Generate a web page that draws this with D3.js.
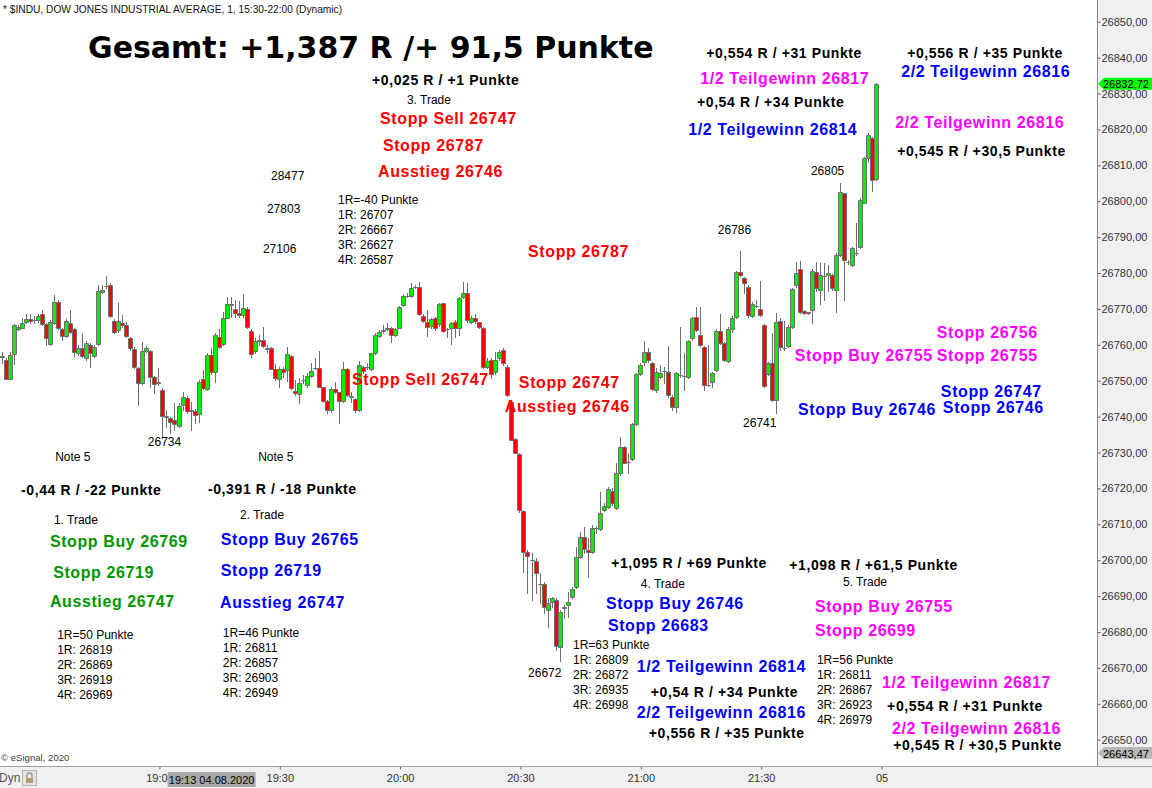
<!DOCTYPE html>
<html>
<head>
<meta charset="utf-8">
<script src="https://cdn.jsdelivr.net/npm/d3@7/dist/d3.min.js"></script>
<style>
  html, body { margin: 0; padding: 0; background: #fff; }
  svg { display: block; }
</style>
</head>
<body>
<svg id="chart" width="1152" height="788"></svg>
<script>
// $INDU 1-minute bars, 04.08.2020, first bar 18:21, last bar 21:59
const startMinute = 18 * 60 + 21;

const opens = [
  26757.0, 26755.7, 26750.6, 26757.3, 26764.5, 26764.8, 26766.4, 26767.2, 26766.9, 26766.9,
  26768.5, 26765.7, 26760.2, 26766.0, 26772.0, 26764.4, 26762.4, 26766.2, 26764.3, 26757.6,
  26759.2, 26756.2, 26759.9, 26756.8, 26760.2, 26774.8, 26776.3, 26776.6, 26766.7, 26764.1,
  26766.1, 26765.5, 26761.8, 26758.7, 26753.6, 26749.4, 26758.2, 26758.2, 26750.9, 26749.5,
  26747.4, 26740.0, 26739.5, 26739.0, 26737.4, 26743.1, 26745.3, 26741.7, 26741.6, 26740.7,
  26750.4, 26747.8, 26757.1, 26752.5, 26762.1, 26760.2, 26767.6, 26771.5, 26770.1, 26768.9,
  26768.3, 26770.1, 26763.9, 26758.3, 26761.1, 26761.2, 26759.2, 26759.0, 26753.2, 26750.4,
  26753.2, 26752.9, 26756.9, 26747.1, 26746.3, 26750.1, 26748.8, 26751.3, 26753.5, 26753.5,
  26748.2, 26744.3, 26741.8, 26747.7, 26746.8, 26744.3, 26753.2, 26745.5, 26744.9, 26741.8,
  26753.8, 26753.8, 26753.2, 26757.7, 26762.5, 26763.9, 26764.3, 26764.6, 26762.7, 26764.7,
  26771.0, 26773.5, 26773.6, 26776.0, 26776.1, 26768.0, 26766.3, 26765.2, 26767.5, 26765.8,
  26771.6, 26764.4, 26764.7, 26766.4, 26764.7, 26773.3, 26774.4, 26766.4, 26767.5, 26766.3,
  26764.7, 26753.8, 26755.8, 26752.4, 26756.3, 26758.5, 26753.8, 26744.1, 26733.8, 26729.6,
  26713.8, 26702.3, 26700.1, 26699.8, 26693.4, 26693.4, 26686.1, 26688.4, 26688.9, 26675.8,
  26686.8, 26687.5, 26689.7, 26692.5, 26700.9, 26706.4, 26702.8, 26702.3, 26709.0, 26708.7,
  26714.0, 26714.8, 26719.3, 26714.5, 26724.3, 26731.5, 26727.3, 26728.2, 26737.9, 26751.9,
  26755.3, 26758.0, 26754.9, 26747.4, 26751.0, 26752.7, 26752.4, 26745.5, 26742.7, 26751.6,
  26751.4, 26751.1, 26761.9, 26767.7, 26762.7, 26759.4, 26748.8, 26749.6, 26752.9, 26763.8,
  26760.5, 26755.5, 26764.4, 26767.7, 26780.3, 26778.6, 26776.1, 26768.0, 26770.8, 26770.0,
  26765.5, 26751.9, 26754.9, 26744.6, 26766.7, 26759.1, 26759.7, 26764.9, 26776.6, 26781.0,
  26769.4, 26768.9, 26769.7, 26780.4, 26775.3, 26779.3, 26779.4, 26779.4, 26775.3, 26785.0,
  26802.2, 26783.2, 26782.2, 26785.5, 26787.3, 26799.6, 26811.9, 26817.7, 26806.1
];

const highs = [
  26758.0, 26756.2, 26758.0, 26765.7, 26765.5, 26767.5, 26768.5, 26768.7, 26768.0, 26768.7,
  26769.7, 26766.0, 26766.9, 26773.9, 26772.6, 26764.8, 26767.1, 26769.7, 26764.6, 26759.9,
  26763.2, 26761.1, 26760.6, 26759.9, 26776.7, 26776.7, 26779.1, 26777.1, 26767.1, 26771.7,
  26768.3, 26766.4, 26762.2, 26759.3, 26753.9, 26760.8, 26759.7, 26758.5, 26751.3, 26753.4,
  26747.9, 26741.8, 26740.0, 26743.7, 26743.7, 26746.9, 26745.7, 26744.1, 26742.0, 26750.2,
  26753.0, 26757.6, 26759.0, 26763.3, 26764.3, 26769.2, 26773.2, 26773.2, 26772.5, 26772.3,
  26774.1, 26770.4, 26764.3, 26761.8, 26762.7, 26764.9, 26759.9, 26759.5, 26754.6, 26753.9,
  26753.9, 26759.4, 26757.1, 26750.2, 26750.8, 26751.6, 26752.1, 26754.9, 26756.3, 26758.3,
  26748.3, 26744.6, 26748.2, 26749.6, 26746.9, 26755.2, 26753.5, 26746.8, 26745.1, 26755.5,
  26754.1, 26754.9, 26757.8, 26763.3, 26764.1, 26765.5, 26766.0, 26765.0, 26764.6, 26770.9,
  26774.1, 26774.4, 26777.2, 26776.6, 26777.5, 26768.6, 26769.7, 26767.5, 26767.8, 26771.6,
  26771.7, 26764.7, 26766.4, 26766.9, 26773.4, 26777.5, 26777.2, 26768.0, 26768.6, 26766.4,
  26765.0, 26756.2, 26756.2, 26758.1, 26758.5, 26759.0, 26754.4, 26744.6, 26733.9, 26729.8,
  26714.0, 26702.8, 26702.0, 26700.6, 26696.4, 26693.9, 26689.5, 26689.7, 26689.5, 26686.1,
  26687.5, 26691.1, 26692.5, 26703.7, 26707.8, 26709.2, 26706.1, 26709.8, 26709.5, 26719.0,
  26716.0, 26720.4, 26720.1, 26727.1, 26734.3, 26731.8, 26729.8, 26738.2, 26752.1, 26754.9,
  26761.1, 26759.1, 26755.2, 26753.5, 26754.4, 26753.8, 26759.7, 26746.0, 26752.4, 26764.9,
  26757.7, 26761.3, 26767.7, 26770.5, 26770.5, 26759.7, 26759.9, 26752.4, 26764.4, 26768.6,
  26760.8, 26764.9, 26768.0, 26780.5, 26786.0, 26778.9, 26776.6, 26771.9, 26772.5, 26777.8,
  26765.8, 26755.2, 26763.3, 26768.8, 26767.5, 26766.5, 26765.5, 26775.8, 26783.1, 26783.4,
  26769.6, 26769.2, 26781.0, 26783.1, 26782.9, 26782.7, 26782.2, 26779.7, 26785.5, 26805.0,
  26802.4, 26783.6, 26787.3, 26793.8, 26800.8, 26812.2, 26818.9, 26818.0, 26833.0
];

const lows = [
  26755.0, 26750.4, 26750.4, 26754.6, 26764.0, 26764.6, 26766.1, 26766.1, 26766.0, 26766.4,
  26765.5, 26759.9, 26759.9, 26765.8, 26764.3, 26761.3, 26762.2, 26763.2, 26756.5, 26757.1,
  26756.5, 26755.9, 26753.9, 26756.5, 26759.9, 26774.5, 26775.7, 26767.8, 26763.2, 26763.6,
  26765.0, 26762.2, 26758.5, 26753.4, 26743.2, 26749.2, 26758.0, 26748.3, 26746.5, 26748.8,
  26734.0, 26737.2, 26735.3, 26736.2, 26737.2, 26741.8, 26740.9, 26736.4, 26738.1, 26738.6,
  26747.8, 26747.4, 26752.0, 26749.7, 26759.0, 26759.9, 26767.4, 26767.8, 26767.8, 26767.8,
  26767.8, 26764.6, 26756.7, 26757.6, 26759.9, 26759.3, 26758.1, 26753.2, 26750.2, 26748.2,
  26751.1, 26750.0, 26747.7, 26746.0, 26743.8, 26749.4, 26748.2, 26751.0, 26753.2, 26748.2,
  26744.0, 26741.0, 26741.3, 26746.6, 26738.2, 26744.0, 26745.7, 26744.0, 26741.3, 26741.5,
  26752.1, 26753.2, 26753.0, 26757.4, 26762.2, 26763.3, 26764.0, 26760.8, 26762.5, 26764.6,
  26770.8, 26773.3, 26773.3, 26775.8, 26768.3, 26766.3, 26762.4, 26764.8, 26764.1, 26765.3,
  26763.6, 26762.1, 26760.2, 26762.3, 26762.7, 26773.0, 26766.4, 26766.0, 26766.1, 26764.6,
  26753.6, 26753.6, 26750.7, 26752.0, 26755.7, 26754.4, 26745.7, 26733.5, 26729.8, 26713.5,
  26696.7, 26690.9, 26688.9, 26690.9, 26688.0, 26685.3, 26681.4, 26686.9, 26675.0, 26672.0,
  26683.9, 26684.2, 26689.5, 26692.2, 26700.6, 26702.0, 26695.3, 26702.0, 26707.6, 26708.4,
  26713.7, 26714.5, 26715.4, 26714.3, 26723.7, 26727.0, 26724.3, 26727.9, 26737.6, 26751.6,
  26754.4, 26755.2, 26747.4, 26746.8, 26750.7, 26749.4, 26745.5, 26741.8, 26741.3, 26751.0,
  26747.4, 26750.7, 26761.3, 26763.8, 26759.7, 26747.4, 26748.5, 26748.2, 26752.7, 26760.2,
  26755.5, 26755.2, 26763.6, 26767.5, 26779.1, 26774.4, 26767.7, 26767.7, 26770.5, 26768.0,
  26748.2, 26751.6, 26744.3, 26741.0, 26758.5, 26758.5, 26759.5, 26764.6, 26776.2, 26768.9,
  26768.5, 26768.5, 26766.0, 26775.0, 26771.5, 26772.5, 26775.0, 26775.2, 26769.2, 26784.7,
  26772.5, 26782.5, 26781.9, 26785.0, 26786.9, 26799.4, 26811.0, 26802.9, 26805.9
];

const closes = [
  26756.5, 26750.6, 26757.1, 26765.5, 26765.0, 26766.2, 26767.3, 26766.6, 26766.9, 26768.1,
  26765.8, 26761.8, 26766.4, 26772.0, 26764.6, 26762.4, 26766.7, 26763.6, 26758.1, 26759.2,
  26756.9, 26760.6, 26757.8, 26759.5, 26775.1, 26775.4, 26776.4, 26768.0, 26763.5, 26766.6,
  26765.5, 26762.4, 26759.0, 26753.9, 26749.3, 26758.2, 26759.0, 26751.1, 26749.1, 26749.4,
  26740.2, 26740.1, 26738.6, 26737.9, 26742.9, 26745.5, 26741.6, 26741.6, 26740.4, 26749.7,
  26748.1, 26757.1, 26752.5, 26762.7, 26759.3, 26767.4, 26771.5, 26771.0, 26768.9, 26768.3,
  26770.3, 26764.9, 26757.4, 26761.1, 26761.3, 26759.7, 26758.7, 26753.3, 26750.7, 26753.2,
  26752.4, 26757.4, 26747.9, 26746.6, 26749.4, 26750.3, 26751.3, 26752.7, 26753.6, 26748.2,
  26744.3, 26741.8, 26747.7, 26746.8, 26744.3, 26753.2, 26746.0, 26745.6, 26741.8, 26754.4,
  26752.7, 26753.9, 26757.7, 26762.7, 26763.5, 26764.0, 26764.8, 26762.7, 26764.3, 26770.5,
  26773.6, 26773.6, 26775.8, 26776.1, 26768.6, 26766.6, 26764.9, 26767.2, 26764.7, 26771.4,
  26763.8, 26764.3, 26766.1, 26764.7, 26773.0, 26774.4, 26766.9, 26767.5, 26766.6, 26764.9,
  26753.8, 26755.5, 26751.9, 26755.8, 26758.0, 26754.9, 26746.0, 26733.5, 26729.9, 26714.0,
  26702.3, 26701.1, 26700.0, 26696.4, 26693.3, 26687.0, 26688.1, 26689.5, 26676.1, 26685.6,
  26687.0, 26688.3, 26691.9, 26700.9, 26706.4, 26703.1, 26702.3, 26709.0, 26709.1, 26713.1,
  26715.1, 26719.8, 26715.9, 26724.3, 26731.5, 26727.0, 26727.4, 26737.9, 26751.9, 26754.4,
  26758.0, 26755.8, 26747.7, 26752.4, 26752.1, 26752.8, 26746.0, 26742.7, 26752.1, 26751.7,
  26751.3, 26761.1, 26767.5, 26764.1, 26759.9, 26748.8, 26748.9, 26752.1, 26763.8, 26760.5,
  26755.8, 26764.4, 26767.5, 26780.3, 26779.4, 26777.2, 26768.3, 26771.4, 26770.9, 26768.3,
  26748.5, 26754.9, 26744.6, 26766.3, 26759.5, 26759.2, 26764.9, 26775.5, 26779.9, 26769.2,
  26768.9, 26769.0, 26780.6, 26775.7, 26779.4, 26779.2, 26779.9, 26775.7, 26785.0, 26802.6,
  26783.6, 26783.1, 26786.9, 26785.6, 26800.3, 26811.9, 26818.4, 26805.9, 26832.72
];

// price axis and markers
const priceTicks = d3.range(26650, 26851, 10);
const lastPrice = 26832.72;
const floorPrice = 26643.47;

// time axis (minutes of day); 22:00 is labelled with the new date "05"
const timeTickMinutes = [1140, 1170, 1200, 1230, 1260, 1290, 1320];
const timeTickLabels = ["19:00", "19:30", "20:00", "20:30", "21:00", "21:30", "05"];
const cursorMinute = 19 * 60 + 13;
const cursorLabel = "19:13 04.08.2020";

// trade notes: [text, bar index, price level, kind]
const notes = [
  ["Gesamt: +1,387 R /+ 91,5 Punkte", 21.2, 26842.7, "title"],
  ["+0,025 R / +1 Punkte", 92.0, 26833.7, "result"],
  ["3. Trade", 100.7, 26828.2, "plain"],
  ["Stopp Sell 26747", 94.0, 26822.9, "red"],
  ["Stopp 26787", 94.7, 26815.6, "red"],
  ["Ausstieg 26746", 93.5, 26808.4, "red"],
  ["28477", 66.8, 26807.0, "plain"],
  ["27803", 65.8, 26797.8, "plain"],
  ["27106", 64.8, 26786.7, "plain"],
  ["1R=-40 Punkte", 83.5, 26800.3, "plain"],
  ["1R: 26707", 83.5, 26796.1, "plain"],
  ["2R: 26667", 83.5, 26792.0, "plain"],
  ["3R: 26627", 83.5, 26787.8, "plain"],
  ["4R: 26587", 83.5, 26783.6, "plain"],
  ["Stopp 26787", 130.9, 26786.1, "red"],
  ["+0,554 R / +31 Punkte", 175.3, 26841.3, "result"],
  ["1/2 Teilgewinn 26817", 173.8, 26834.3, "magenta"],
  ["+0,54 R / +34 Punkte", 173.0, 26827.6, "result"],
  ["1/2 Teilgewinn 26814", 170.8, 26820.1, "blue"],
  ["26805", 201.4, 26808.4, "plain"],
  ["26786", 178.2, 26792.0, "plain"],
  ["+0,556 R / +35 Punkte", 225.4, 26841.3, "result"],
  ["2/2 Teilgewinn 26816", 223.9, 26836.0, "blue"],
  ["2/2 Teilgewinn 26816", 222.4, 26821.8, "magenta"],
  ["+0,545 R / +30,5 Punkte", 222.9, 26814.0, "result"],
  ["Stopp 26756", 232.8, 26763.3, "magenta"],
  ["Stopp Buy 26755", 197.4, 26757.1, "magenta"],
  ["Stopp 26755", 232.8, 26756.9, "magenta"],
  ["Stopp 26747", 233.8, 26747.1, "blue"],
  ["Stopp Buy 26746", 198.2, 26742.1, "blue"],
  ["Stopp 26746", 234.3, 26742.4, "blue"],
  ["26741", 184.5, 26738.2, "plain"],
  ["Stopp Sell 26747", 87.0, 26750.2, "red"],
  ["Stopp 26747", 128.6, 26749.6, "red"],
  ["Ausstieg 26746", 125.1, 26742.7, "red"],
  ["26734", 36.1, 26732.9, "plain"],
  ["Note 5", 13.0, 26728.7, "plain"],
  ["Note 5", 63.6, 26728.7, "plain"],
  ["-0,44 R / -22 Punkte", 4.5, 26719.5, "result"],
  ["-0,391 R / -18 Punkte", 51.1, 26719.8, "result"],
  ["1. Trade", 12.7, 26711.2, "plain"],
  ["2. Trade", 59.1, 26712.6, "plain"],
  ["Stopp Buy 26769", 11.7, 26705.1, "green"],
  ["Stopp 26719", 12.5, 26696.7, "green"],
  ["Ausstieg 26747", 11.7, 26688.6, "green"],
  ["Stopp Buy 26765", 54.3, 26705.9, "blue"],
  ["Stopp 26719", 54.3, 26697.0, "blue"],
  ["Ausstieg 26747", 54.1, 26688.3, "blue"],
  ["1R=50 Punkte", 13.5, 26679.2, "plain"],
  ["1R: 26819", 13.5, 26675.0, "plain"],
  ["2R: 26869", 13.5, 26670.8, "plain"],
  ["3R: 26919", 13.5, 26666.6, "plain"],
  ["4R: 26969", 13.5, 26662.4, "plain"],
  ["1R=46 Punkte", 54.8, 26679.7, "plain"],
  ["1R: 26811", 54.8, 26675.5, "plain"],
  ["2R: 26857", 54.8, 26671.4, "plain"],
  ["3R: 26903", 54.8, 26667.2, "plain"],
  ["4R: 26949", 54.8, 26663.0, "plain"],
  ["+1,095 R / +69 Punkte", 151.6, 26699.2, "result"],
  ["4. Trade", 159.0, 26693.4, "plain"],
  ["Stopp Buy 26746", 150.3, 26687.8, "blue"],
  ["Stopp 26683", 150.8, 26681.9, "blue"],
  ["1R=63 Punkte", 142.1, 26676.4, "plain"],
  ["1R: 26809", 142.1, 26672.2, "plain"],
  ["2R: 26872", 142.1, 26668.0, "plain"],
  ["3R: 26935", 142.1, 26663.8, "plain"],
  ["4R: 26998", 142.1, 26659.7, "plain"],
  ["26672", 130.9, 26668.6, "plain"],
  ["1/2 Teilgewinn 26814", 158.0, 26670.5, "blue"],
  ["+0,54 R / +34 Punkte", 161.5, 26663.3, "result"],
  ["2/2 Teilgewinn 26816", 158.0, 26657.7, "blue"],
  ["+0,556 R / +35 Punkte", 161.0, 26651.9, "result"],
  ["+1,098 R / +61,5 Punkte", 196.0, 26698.6, "result"],
  ["5. Trade", 209.4, 26693.9, "plain"],
  ["Stopp Buy 26755", 202.4, 26687.2, "magenta"],
  ["Stopp 26699", 202.4, 26680.3, "magenta"],
  ["1R=56 Punkte", 202.9, 26672.2, "plain"],
  ["1R: 26811", 202.9, 26668.0, "plain"],
  ["2R: 26867", 202.9, 26663.8, "plain"],
  ["3R: 26923", 202.9, 26659.7, "plain"],
  ["4R: 26979", 202.9, 26655.5, "plain"],
  ["1/2 Teilgewinn 26817", 219.1, 26665.8, "magenta"],
  ["+0,554 R / +31 Punkte", 220.4, 26659.4, "result"],
  ["2/2 Teilgewinn 26816", 221.6, 26653.0, "magenta"],
  ["+0,545 R / +30,5 Punkte", 221.9, 26648.5, "result"]
];

// ---------- layout ----------
const W = 1152, H = 788;
const plotRight = 1097, plotBottom = 766;
const SANS = "'Liberation Sans', Arial, sans-serif";

const noteStyle = {
  title:   { font: "'DejaVu Sans', Verdana, sans-serif", size: 30, weight: "bold", fill: "#000", ls: 0 },
  result:  { font: SANS, size: 14, weight: "bold", fill: "#000", ls: 0.6 },
  plain:   { font: SANS, size: 12, weight: "normal", fill: "#000", ls: 0 },
  red:     { font: SANS, size: 16, weight: "bold", fill: "#ff0000", ls: 0.6 },
  blue:    { font: SANS, size: 16, weight: "bold", fill: "#0000ff", ls: 0.6 },
  magenta: { font: SANS, size: 16, weight: "bold", fill: "#ff00ff", ls: 0.6 },
  green:   { font: SANS, size: 16, weight: "bold", fill: "#009600", ls: 0.6 }
};

const svg = d3.select("#chart");

const x = d3.scaleLinear().domain([0, 219]).range([3, 881.5]);
const y = d3.scaleLinear().domain([26650, 26850]).range([739.7, 21.7]);
const barOf = m => m - startMinute;

// backgrounds
svg.append("rect").attr("width", W).attr("height", H).attr("fill", "#fff");
svg.append("rect").attr("x", plotRight).attr("y", 0)
  .attr("width", W - plotRight).attr("height", plotBottom).attr("fill", "#f0f0f0");
svg.append("rect").attr("x", 0).attr("y", plotBottom)
  .attr("width", W).attr("height", H - plotBottom).attr("fill", "#f0f0f0");

// candles
const bars = d3.range(opens.length).map(i => ({
  i, o: opens[i], h: highs[i], l: lows[i], c: closes[i]
}));

const candle = svg.append("g").attr("class", "candles");
const gBar = candle.selectAll("g").data(bars).join("g");

gBar.append("line")
  .attr("x1", d => Math.round(x(d.i)) - 0.5)
  .attr("x2", d => Math.round(x(d.i)) - 0.5)
  .attr("y1", d => Math.round(y(d.h)))
  .attr("y2", d => Math.round(y(d.l)) + 1)
  .attr("stroke", "#6e6e6e")
  .attr("stroke-width", 1);

gBar.append("path")
  .attr("d", d => {
    const cx = Math.round(x(d.i));
    const top = Math.round(y(Math.max(d.o, d.c))) + 0.5;
    const bot = Math.round(y(Math.min(d.o, d.c))) + 0.5;
    return `M${cx - 2.5},${top}H${cx + 1.5}V${bot}H${cx - 2.5}Z`;
  })
  .attr("fill", d => d.c > d.o ? "#00f000" : (d.c < d.o ? "#ff0000" : "#6e6e6e"))
  .attr("stroke", "#6e6e6e")
  .attr("stroke-width", 1);

// price axis on the right
const yAxis = d3.axisRight(y)
  .tickValues(priceTicks)
  .tickSize(3)
  .tickPadding(1)
  .tickFormat(d => d3.format(".2f")(d).replace(".", ","));

const gy = svg.append("g").attr("transform", `translate(${plotRight + 0.5},0)`).call(yAxis);
gy.select(".domain").remove();
gy.selectAll(".tick line").attr("stroke", "#555");
gy.selectAll(".tick text")
  .attr("fill", "#333")
  .style("font-family", SANS)
  .style("font-size", "11px");

svg.append("line")
  .attr("x1", plotRight + 0.5).attr("x2", plotRight + 0.5)
  .attr("y1", 0).attr("y2", plotBottom)
  .attr("stroke", "#8a8a8a");

// time axis along the bottom
const xAxis = d3.axisBottom(x)
  .tickValues(timeTickMinutes.map(barOf))
  .tickSize(3)
  .tickPadding(5)
  .tickFormat((d, i) => timeTickLabels[i]);

const gx = svg.append("g").attr("transform", `translate(0,${plotBottom + 0.5})`).call(xAxis);
gx.select(".domain").remove();
gx.selectAll(".tick line").attr("stroke", "#666");
gx.selectAll(".tick text")
  .attr("fill", "#333")
  .style("font-family", SANS)
  .style("font-size", "11px");

svg.append("line")
  .attr("x1", 0).attr("x2", W)
  .attr("y1", plotBottom + 0.5).attr("y2", plotBottom + 0.5)
  .attr("stroke", "#a0a0a0");

// crosshair time badge
const cursorX = x(barOf(cursorMinute));
svg.append("rect")
  .attr("x", cursorX - 44).attr("y", plotBottom + 6)
  .attr("width", 88).attr("height", 15)
  .attr("fill", "#a8a8a8");
svg.append("text")
  .attr("x", cursorX).attr("y", plotBottom + 13.5)
  .attr("text-anchor", "middle")
  .attr("dominant-baseline", "central")
  .attr("fill", "#000")
  .style("font-family", SANS).style("font-size", "11px")
  .text(cursorLabel);

// price markers
function priceTag(cy, fill, label) {
  const g = svg.append("g");
  g.append("path")
    .attr("d", `M${plotRight + 1},${cy}L${plotRight + 7},${cy - 6}H${W}V${cy + 6}H${plotRight + 7}Z`)
    .attr("fill", fill);
  g.append("text")
    .attr("x", plotRight + 6).attr("y", cy + 0.5)
    .attr("dominant-baseline", "central")
    .attr("fill", "#000")
    .style("font-family", SANS).style("font-size", "11px")
    .text(d3.format(".2f")(label).replace(".", ","));
}
priceTag(y(lastPrice), "#00ff00", lastPrice);
priceTag(Math.min(y(floorPrice), plotBottom - 13), "#b8b8b8", floorPrice);

// symbol header
svg.append("text")
  .attr("x", 3).attr("y", 9.5)
  .attr("dominant-baseline", "central")
  .attr("fill", "#111")
  .style("font-family", SANS).style("font-size", "10.2px")
  .text("* $INDU, DOW JONES INDUSTRIAL AVERAGE, 1, 15:30-22:00 (Dynamic)");

// copyright line
svg.append("text")
  .attr("x", 1).attr("y", 757)
  .attr("dominant-baseline", "central")
  .attr("fill", "#444")
  .style("font-family", SANS).style("font-size", "9.6px")
  .text("\u00a9 eSignal, 2020");

// "Dyn" + lock button
svg.append("text")
  .attr("x", -1).attr("y", 778)
  .attr("dominant-baseline", "central")
  .attr("fill", "#555")
  .style("font-family", SANS).style("font-size", "12px")
  .text("Dyn");
const lock = svg.append("g").attr("transform", "translate(22,770)");
lock.append("rect").attr("x", 0.5).attr("y", 0.5).attr("width", 14).attr("height", 15)
  .attr("fill", "#e4e4e4").attr("stroke", "#b4b4b4");
lock.append("path").attr("d", "M5,8V5.5a2.5,2.5 0 0 1 5,0V8")
  .attr("fill", "none").attr("stroke", "#9a9a9a").attr("stroke-width", 1.3);
lock.append("rect").attr("x", 4).attr("y", 8).attr("width", 7).attr("height", 5)
  .attr("fill", "#b0a070");

// trade notes
svg.append("g").attr("class", "notes")
  .selectAll("text")
  .data(notes)
  .join("text")
  .attr("x", d => x(d[1]))
  .attr("y", d => y(d[2]))
  .attr("dominant-baseline", "central")
  .attr("fill", d => noteStyle[d[3]].fill)
  .style("font-family", d => noteStyle[d[3]].font)
  .style("font-size", d => noteStyle[d[3]].size + "px")
  .style("font-weight", d => noteStyle[d[3]].weight)
  .style("letter-spacing", d => noteStyle[d[3]].ls + "px")
  .text(d => d[0]);
</script>
</body>
</html>
